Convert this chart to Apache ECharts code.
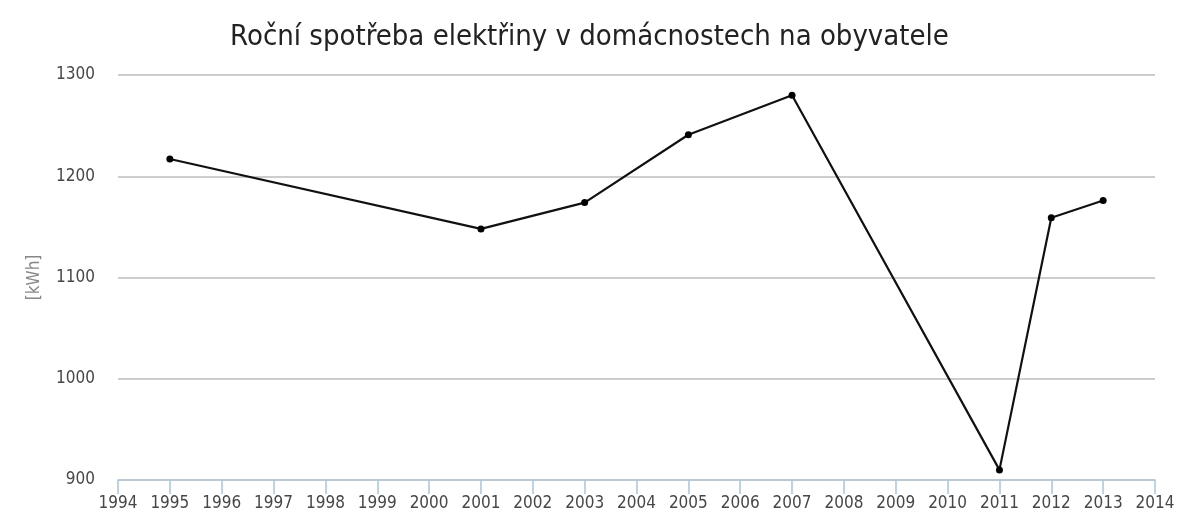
<!DOCTYPE html>
<html>
<head>
<meta charset="utf-8">
<script src="https://cdn.jsdelivr.net/npm/echarts@6/dist/echarts.min.js"></script>
<style>
  html, body { margin: 0; padding: 0; background: #fff; }
  #main { width: 1179px; height: 515px; }
</style>
</head>
<body>
<div id="main"></div>
<script>
// data
var years = [1995, 2001, 2003, 2005, 2007, 2011, 2012, 2013];
var spotreba = [1217, 1148, 1174, 1241, 1280, 910, 1159, 1176];

var font = '"DejaVu Sans Condensed", "DejaVu Sans", sans-serif';

var chart = echarts.init(document.getElementById('main'));

var option = {
  animation: false,
  title: {
    text: 'Roční spotřeba elektřiny v domácnostech na obyvatele',
    left: 'center',
    top: 18,
    textStyle: { fontFamily: font, fontSize: 29, fontWeight: 'normal', color: '#222' }
  },
  grid: { left: 118, right: 24, top: 75, bottom: 35 },
  xAxis: {
    type: 'value',
    min: 1994,
    max: 2014,
    interval: 1,
    axisLine: { lineStyle: { color: '#b8c8d4', width: 1.5 } },
    axisTick: { show: true, inside: false, length: 14, lineStyle: { color: '#a8c6de', width: 1.5 } },
    axisLabel: {
      margin: 15, fontFamily: font, fontSize: 17, color: '#474747',
      formatter: function (v) { return String(v); }
    },
    splitLine: { show: false }
  },
  yAxis: {
    type: 'value',
    min: 900,
    max: 1300,
    interval: 100,
    name: '[kWh]',
    nameLocation: 'middle',
    nameGap: 75,
    nameTextStyle: { fontFamily: font, fontSize: 17, color: '#888' },
    axisLine: { show: false },
    axisTick: { show: false },
    axisLabel: {
      margin: 23, fontFamily: font, fontSize: 17, color: '#474747',
      formatter: function (v) { return String(v); }
    },
    splitLine: { lineStyle: { color: '#bdbdbd', width: 1.5 } }
  },
  series: [{
    type: 'line',
    data: years.map(function (y, i) { return [y, spotreba[i]]; }),
    symbol: 'circle',
    symbolSize: 7,
    lineStyle: { color: '#111', width: 2.2 },
    itemStyle: { color: '#000' }
  }]
};

chart.setOption(option);
</script>
</body>
</html>
